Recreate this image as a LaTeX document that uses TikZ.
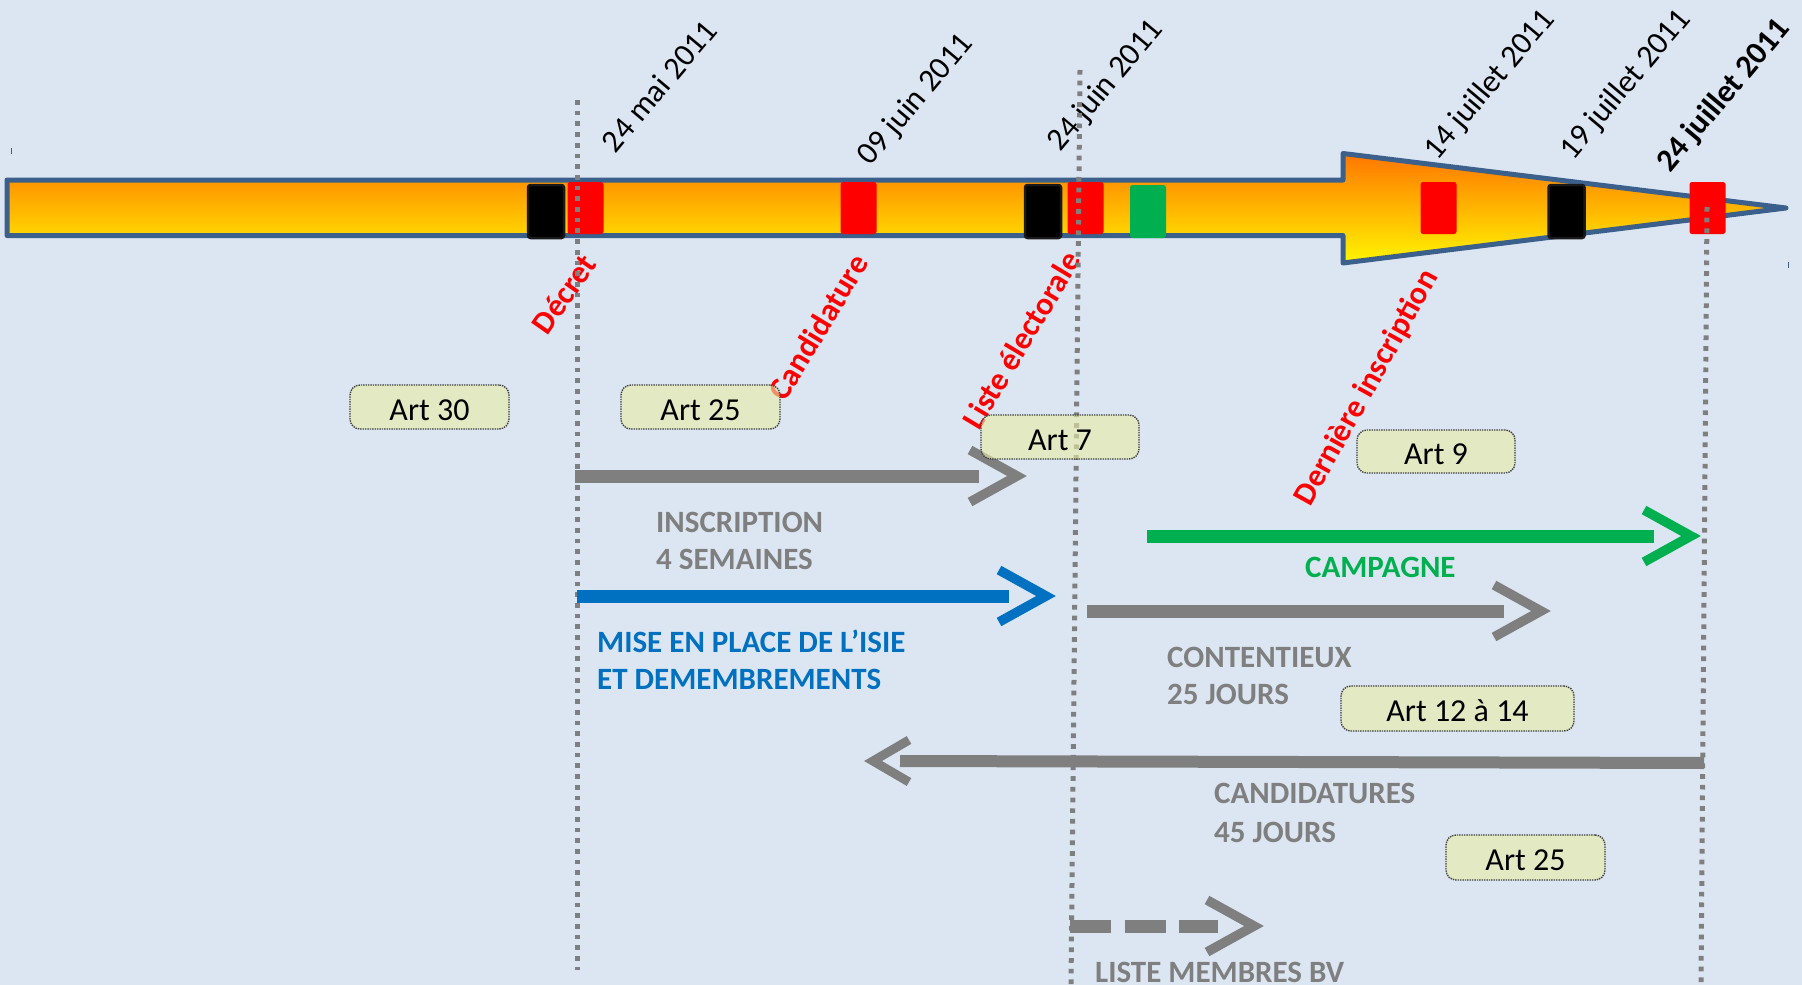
\documentclass[tikz,border=0pt]{standalone}
\usepackage{fontspec}
\setmainfont{Carlito}
\usetikzlibrary{calc}
\definecolor{bg}{RGB}{220,230,242}
\definecolor{brd}{RGB}{60,96,140}
\definecolor{gr}{RGB}{127,127,127}
\definecolor{bl}{RGB}{0,112,192}
\definecolor{gn}{RGB}{0,176,80}
\definecolor{artf}{RGB}{233,238,165}
\definecolor{orA}{RGB}{255,118,0}
\definecolor{yeB}{RGB}{255,245,0}
\newcommand\fdate{\fontsize{32}{38}\selectfont}
\newcommand\flab{\fontsize{31}{37}\selectfont\bfseries}
\newcommand\fart{\fontsize{32}{38}\selectfont}
\begin{document}
\begin{tikzpicture}[x=1pt,y=-1pt,
  vdot/.style={draw=gr, line width=5pt, dash pattern=on 4.7pt off 6pt},
  shaft/.style={line width=13pt},
  chev/.style={line width=9.5pt, miter limit=10, line join=miter, line cap=butt},
  mk/.style={minimum width=36pt, minimum height=53pt, inner sep=0pt, rounded corners=2.5pt},
  blk/.style={mk, fill=black, draw=black!90, line width=2.5pt},
  rdb/.style={mk, minimum height=52pt, fill=red},
  gnb/.style={mk, fill=gn},
  datel/.style={font=\fdate, inner sep=0pt, anchor=center},
  rlab/.style={font=\fontsize{32}{38}\selectfont\bfseries, text=red, inner sep=0pt, anchor=center},
  lab/.style={font=\flab, inner sep=0pt, anchor=base west},
  artbox/.style={rounded corners=10pt, draw=black!75, densely dotted, line width=1.4pt,
     fill=artf, fill opacity=0.6, text opacity=1, inner sep=0pt,
     text height=26pt, text depth=0pt, font=\fart}
]
\useasboundingbox (0,0) rectangle (1802,985);
\fill[bg] (0,0) rectangle (1802,985);

% main timeline arrow
\draw[brd, line width=5pt, line join=round, top color=orA, bottom color=yeB]
  (7,180) -- (1343,180) -- (1343,153.5) -- (1786,208) -- (1343,263) -- (1343,235.5) -- (7,235.5) -- cycle;
\draw[brd, line width=1pt] (11,148) -- (11,154);
\draw[brd, line width=1pt] (1788,262) -- (1788,268);

% markers
\node[blk] (b1) at (546,211.5) {};
\node[rdb] (r1) at (585.5,208) {};
\node[rdb] (r2) at (858.5,208) {};
\node[blk] (b2) at (1043,211.5) {};
\node[rdb] (r3) at (1085.5,208) {};
\node[gnb] (g1) at (1148,211.5) {};
\node[rdb] (r4) at (1438.5,208) {};
\node[blk] (b3) at (1566.5,211.5) {};
\node[rdb] (r5) at (1707.5,208) {};

% red event labels
\node[rlab, rotate=55] (l1) at (564,294) {Décret};
\node[rlab, rotate=59] (l2) at (818,327) {Candidature};
\node[rlab, rotate=59] (l3) at (1021,340) {Liste électorale};
\node[rlab, rotate=61] (l4) at (1367,388) {Dernière inscription};

% dates
\node[datel, rotate=50] (d1) at (659,86) {24 mai 2011};
\node[datel, rotate=50] (d2) at (916,100) {09 juin 2011};
\node[datel, rotate=50] (d3) at (1106,86) {24 juin 2011};
\node[datel, rotate=50] (d4) at (1490,85) {14 juillet 2011};
\node[datel, rotate=50] (d5) at (1626,85) {19 juillet 2011};
\node[datel, rotate=50, font=\fdate\bfseries] (d6) at (1724,96) {24 juillet 2011};

% vertical dotted lines
\coordinate (va0) at (577,100);  \coordinate (va1) at (577,970);
\coordinate (vb0) at (1080,70);  \coordinate (vb1) at (1071,985);
\coordinate (vc0) at (1707,207); \coordinate (vc1) at (1701,985);
\draw[vdot] (va0) -- (va1);
\draw[vdot] (vb0) -- (vb1);
\draw[vdot] (vc0) -- (vc1);

% INSCRIPTION
\coordinate (i0) at (575,476); \coordinate (i1) at (979,476); \coordinate (iv) at (1017,476);
\draw[gr, shaft] (i0) -- (i1);
\draw[gr, chev] ($(iv)+(-47,-26)$) -- (iv) -- ($(iv)+(-47,26)$);
\node[lab, text=gr] (t1) at (656,532) {INSCRIPTION};
\node[lab, text=gr] (t1b) at (656,569) {4 SEMAINES};

% MISE EN PLACE
\coordinate (m0) at (577,596); \coordinate (m1) at (1009,596); \coordinate (mv) at (1046,596);
\draw[bl, shaft] (m0) -- (m1);
\draw[bl, chev] ($(mv)+(-47,-26)$) -- (mv) -- ($(mv)+(-47,26)$);
\node[lab, text=bl] (t2) at (597,652) {MISE EN PLACE DE L’ISIE};
\node[lab, text=bl] (t2b) at (597,689) {ET DEMEMBREMENTS};

% CAMPAGNE
\coordinate (c0) at (1147,536); \coordinate (c1) at (1654,536); \coordinate (cv) at (1691,536);
\draw[gn, shaft] (c0) -- (c1);
\draw[gn, chev] ($(cv)+(-47,-26)$) -- (cv) -- ($(cv)+(-47,26)$);
\node[lab, text=gn] (t3) at (1305,577) {CAMPAGNE};

% CONTENTIEUX
\coordinate (k0) at (1087,611); \coordinate (k1) at (1504,611); \coordinate (kv) at (1541,611);
\draw[gr, shaft] (k0) -- (k1);
\draw[gr, chev] ($(kv)+(-47,-26)$) -- (kv) -- ($(kv)+(-47,26)$);
\node[lab, text=gr] (t4) at (1167,667) {CONTENTIEUX};
\node[lab, text=gr] (t4b) at (1167,704) {25 JOURS};

% CANDIDATURES (leftwards)
\coordinate (n0) at (1704,763); \coordinate (n1) at (900,761); \coordinate (nv) at (873,761);
\draw[gr, line width=12pt] (n0) -- (n1);
\draw[gr, chev, line width=9pt] ($(nv)+(36,-21)$) -- (nv) -- ($(nv)+(36,21)$);
\node[lab, text=gr] (t5) at (1214,803) {CANDIDATURES};
\node[lab, text=gr] (t5b) at (1214,842) {45 JOURS};

% LISTE MEMBRES BV (dashed)
\coordinate (s0) at (1070,926); \coordinate (s1) at (1218,926); \coordinate (sv) at (1254,926);
\draw[gr, shaft, dash pattern=on 41pt off 13.5pt] (s0) -- (s1);
\draw[gr, chev] ($(sv)+(-47,-26)$) -- (sv) -- ($(sv)+(-47,26)$);
\node[lab, text=gr] (t6) at (1095,982) {LISTE MEMBRES BV};

% article boxes
\node[artbox, minimum width=159pt, minimum height=44pt] (a30) at (429.5,407) {Art 30};
\node[artbox, minimum width=159pt, minimum height=44pt] (a25) at (700.5,407) {Art 25};
\node[artbox, minimum width=158pt, minimum height=44pt] (a7) at (1060,437) {Art 7};
\node[artbox, minimum width=158pt, minimum height=43pt] (a9) at (1436,451.5) {Art 9};
\node[artbox, minimum width=233pt, minimum height=45pt] (a12) at (1457.5,708.5) {Art 12 à 14};
\node[artbox, minimum width=159pt, minimum height=45pt] (a25b) at (1525.5,857.5) {Art 25};
\end{tikzpicture}
\end{document}
